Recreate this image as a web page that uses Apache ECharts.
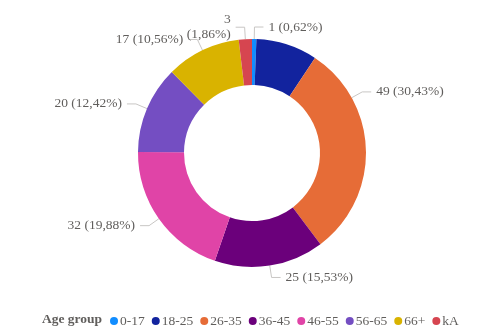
<!DOCTYPE html>
<html>
<head>
<meta charset="utf-8">
<script src="https://cdn.jsdelivr.net/npm/echarts@6/dist/echarts.min.js"></script>
<style>
  html, body { margin: 0; padding: 0; background: #fff; }
  #chart { width: 502px; height: 333px; }
</style>
</head>
<body>
<div id="chart"></div>
<script>
// Respondents per age group
const categories = ['0-17', '18-25', '26-35', '36-45', '46-55', '56-65', '66+', 'kA'];
const counts = [1, 14, 49, 25, 32, 20, 17, 3];
const colors = ['#118DFF', '#12239E', '#E66C37', '#6B007B', '#E044A7', '#744EC2', '#D9B300', '#D64550'];
// groups whose slice label is left out
const hiddenLabels = ['18-25'];
// groups whose label wraps onto two lines
const wrappedLabels = ['kA'];
// labels attached higher up on their slice (angle in degrees, clockwise from 12 o'clock)
const raisedLabels = { '26-35': 61 };

const FONT = '"Liberation Serif", "Times New Roman", serif';
const TEXT = '#605E5C';
const CENTER = [252, 153];
const RADIUS = [68, 114];
const LINE1 = 12, LINE2 = 9;

const fmtPct = p => p.toFixed(2).replace('.', ',');

const data = categories.map((name, i) => {
  const item = { name, value: counts[i], itemStyle: { color: colors[i] } };
  if (hiddenLabels.includes(name)) {
    item.label = { show: false };
    item.labelLine = { show: false };
  }
  return item;
});

const chart = echarts.init(document.getElementById('chart'), null, { renderer: 'canvas' });
chart.setOption({
  animation: false,
  color: colors,
  title: {
    text: 'Age group',
    left: 37,
    top: 308,
    textStyle: { fontFamily: FONT, fontSize: 13.5, fontWeight: 'bold', color: TEXT }
  },
  legend: {
    data: categories,
    left: 105,
    top: 309,
    icon: 'circle',
    itemWidth: 8,
    itemHeight: 8,
    itemGap: 7,
    textStyle: { fontFamily: FONT, fontSize: 13.5, color: TEXT, padding: [0, 0, 0, -3] }
  },
  series: [{
    type: 'pie',
    center: CENTER,
    radius: RADIUS,
    startAngle: 90,
    clockwise: true,
    avoidLabelOverlap: false,
    data,
    label: {
      fontFamily: FONT,
      fontSize: 13.5,
      color: TEXT,
      lineHeight: 15,
      formatter: p => wrappedLabels.includes(p.name)
        ? `${p.value}\n(${fmtPct(p.percent)}%)`
        : `${p.value} (${fmtPct(p.percent)}%)`
    },
    labelLine: {
      length: LINE1,
      length2: LINE2,
      lineStyle: { color: '#C8C6C4', width: 1 }
    },
    labelLayout: params => {
      const name = categories[params.dataIndex];
      if (!(name in raisedLabels)) return {};
      const a = raisedLabels[name] * Math.PI / 180;
      const sx = Math.sin(a), sy = -Math.cos(a);
      const p0 = [CENTER[0] + RADIUS[1] * sx, CENTER[1] + RADIUS[1] * sy];
      const p1 = [p0[0] + LINE1 * sx, p0[1] + LINE1 * sy];
      const p2 = [p1[0] + LINE2, p1[1]];
      return {
        x: p2[0] + 5,
        y: p2[1],
        align: 'left',
        verticalAlign: 'middle',
        labelLinePoints: [p0, p1, p2]
      };
    }
  }]
});
</script>
</body>
</html>
